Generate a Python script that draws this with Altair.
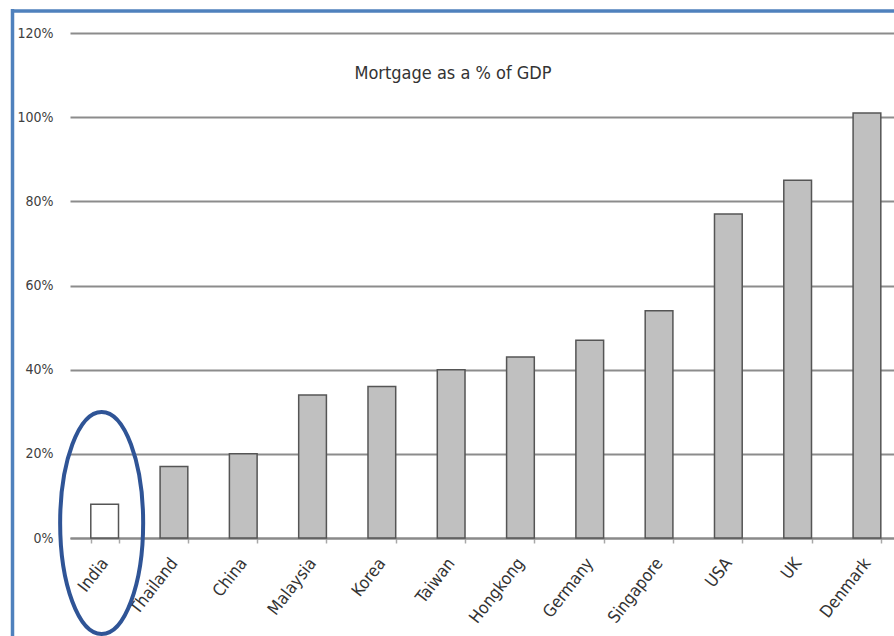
import altair as alt
import pandas as pd

# Mortgage debt as a share of GDP, by country
countries = ["India", "Thailand", "China", "Malaysia", "Korea", "Taiwan",
             "Hongkong", "Germany", "Singapore", "USA", "UK", "Denmark"]
mortgage_pct = [8, 17, 20, 34, 36, 40, 43, 47, 54, 77, 85, 101]
highlighted = ["India"]
y_ticks = [0, 20, 40, 60, 80, 100, 120]
chart_title = "Mortgage as a % of GDP"

FONT = "DejaVu Sans Condensed, sans-serif"

df = pd.DataFrame({
    "country": countries,
    "share": [v / 100 for v in mortgage_pct],
    "group": ["focus" if c in highlighted else "other" for c in countries],
})
focus_df = df[df["group"] == "focus"]
one = pd.DataFrame({"k": [0]})

W, H = 824, 505
BAND_RANGE = 831.6  # last category runs slightly past the right edge

x_enc = alt.X(
    "country:N",
    sort=countries,
    scale=alt.Scale(domain=countries, range=[0, BAND_RANGE],
                    paddingInner=0.6, paddingOuter=0.3),
    axis=alt.Axis(
        title=None, labelAngle=-52, labelAlign="right", labelBaseline="middle",
        labelFont=FONT, labelFontSize=17, labelColor="#333333",
        labelPadding=17, labelOverlap=False,
        tickBand="extent", ticks=True, tickSize=5, tickColor="#a8a8a8",
        tickWidth=1.5, domainColor="#8a8a8a", domainWidth=2, grid=False,
    ),
)

y_enc = alt.Y(
    "share:Q",
    scale=alt.Scale(domain=[0, 1.2], nice=False),
    axis=alt.Axis(
        title=None, values=[v / 100 for v in y_ticks], format=".0%",
        labelFont=FONT, labelFontSize=14, labelColor="#404040",
        labelPadding=17, ticks=False, domain=False,
        grid=True, gridColor="#8c8c8c", gridWidth=2,
    ),
)

bars = alt.Chart(df).mark_bar(stroke="#555555", strokeWidth=1.5).encode(
    x=x_enc,
    y=y_enc,
    color=alt.Color("group:N",
                    scale=alt.Scale(domain=["focus", "other"],
                                    range=["#ffffff", "#c0c0c0"]),
                    legend=None),
)

title_text = alt.Chart(one).mark_text(
    text=chart_title, font=FONT, fontSize=18, color="#333333",
    align="center", baseline="middle",
).encode(x=alt.value(383), y=alt.value(41))

# ellipse drawn around the highlighted country
ellipse_path = "M -0.374 0 A 0.374 1 0 1 0 0.374 0 A 0.374 1 0 1 0 -0.374 0 Z"
ellipse = alt.Chart(focus_df).mark_point(
    shape=ellipse_path, size=222 * 222, filled=False,
    stroke="#2f5496", strokeWidth=4, opacity=1, xOffset=-3,
).encode(
    x=alt.X("country:N", sort=countries),
    y=alt.value(490),
)

# blue frame along the left and top edges
frame_left = alt.Chart(one).mark_rule(color="#4f81bd", strokeWidth=3.5).encode(
    x=alt.value(-57.5), y=alt.value(-24), y2=alt.value(610))
frame_top = alt.Chart(one).mark_rule(color="#4f81bd", strokeWidth=3.5).encode(
    x=alt.value(-59), x2=alt.value(830), y=alt.value(-22))

chart = alt.layer(bars, title_text, ellipse, frame_left, frame_top).properties(
    width=W, height=H,
    autosize=alt.AutoSizeParams(type="none"),
    padding={"left": 70, "top": 33, "right": 0, "bottom": 98},
    background="white",
).configure_view(stroke=None)

chart.save("out.html", embed_options={"renderer": "svg", "actions": False})
